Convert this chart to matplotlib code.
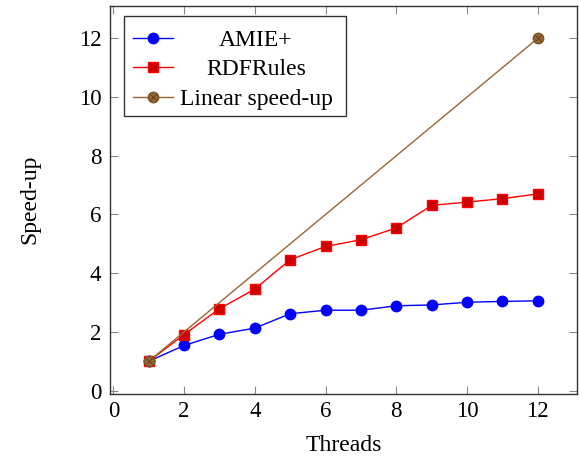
import matplotlib.pyplot as plt
from matplotlib.lines import Line2D
from matplotlib.patches import Rectangle

plt.rcParams['font.family'] = ['Liberation Serif', 'DejaVu Serif']

threads = [1, 2, 3, 4, 5, 6, 7, 8, 9, 10, 11, 12]
amie = [1.0, 1.54, 1.92, 2.13, 2.62, 2.74, 2.74, 2.89, 2.92, 3.01, 3.04, 3.06]
rdfrules = [1.0, 1.91, 2.79, 3.46, 4.46, 4.91, 5.14, 5.54, 6.31, 6.42, 6.54, 6.70]
linear_x = [1, 12]
linear_y = [1, 12]

labels = ['AMIE+', 'RDFRules', 'Linear speed-up']
brown = '#996633'

fig = plt.figure(figsize=(5.79, 4.62), dpi=100)
ax = fig.add_axes([109.8 / 579, 1 - 393.6 / 462, (576.7 - 109.8) / 579, (393.6 - 6) / 462])

styles = [
    dict(color='blue', lw=1, marker='o', markersize=7.5,
         markerfacecolor='blue', markeredgecolor='blue'),
    dict(color='red', lw=1, marker='s', markersize=7.5,
         markerfacecolor='#cc0000', markeredgecolor='red'),
    dict(color=brown, lw=1, marker='o', markersize=7.5,
         markerfacecolor=brown, markeredgecolor='#7a5229'),
]
cross = dict(ls='none', marker='x', markersize=4.5,
             markeredgecolor='#5a3c1e', markeredgewidth=0.6)

ax.plot(threads, amie, **styles[0])
ax.plot(threads, rdfrules, **styles[1])
ax.plot(linear_x, linear_y, **styles[2])
ax.plot(linear_x, linear_y, **cross)

ax.set_xlim(-0.1, 13.1)
ax.set_ylim(-0.1, 13.1)
ax.set_xticks(range(0, 13, 2))
ax.set_yticks(range(0, 13, 2))
ax.tick_params(direction='in', length=6, color='#888888', labelsize=16.5,
               top=True, right=True)
ax.tick_params(axis='y', pad=6)
ax.tick_params(axis='x', pad=5)
for s in ax.spines.values():
    s.set_color('#333333')
    s.set_linewidth(1)

ax.set_xlabel('Threads', fontsize=17, va='center')
ax.xaxis.set_label_coords(0.5, -0.133)
ax.set_ylabel('Speed-up', fontsize=17, va='center')
ax.yaxis.set_label_coords(-0.171, 0.5)

# legend drawn by hand so the labels can be centred like pgfplots
ax.add_patch(Rectangle((0.0304, 0.716), 0.4757, 0.258, transform=ax.transAxes,
                       facecolor='white', edgecolor='#333333', lw=1, zorder=5))
rows = [0.918, 0.843, 0.766]
for i, lab in enumerate(labels):
    y = rows[i]
    ax.add_line(Line2D([0.0497, 0.1354], [y, y], transform=ax.transAxes,
                       color=styles[i]['color'], lw=1, zorder=6))
    st = {k: v for k, v in styles[i].items() if k not in ('color', 'lw')}
    ax.add_line(Line2D([0.0925], [y], transform=ax.transAxes, ls='none',
                       zorder=7, **st))
    if i == 2:
        ax.add_line(Line2D([0.0925], [y], transform=ax.transAxes, zorder=8, **cross))
    ax.text(0.313, y, lab, transform=ax.transAxes, ha='center',
            va='center_baseline', fontsize=17, zorder=8)

fig.savefig('out.png', dpi=100)
